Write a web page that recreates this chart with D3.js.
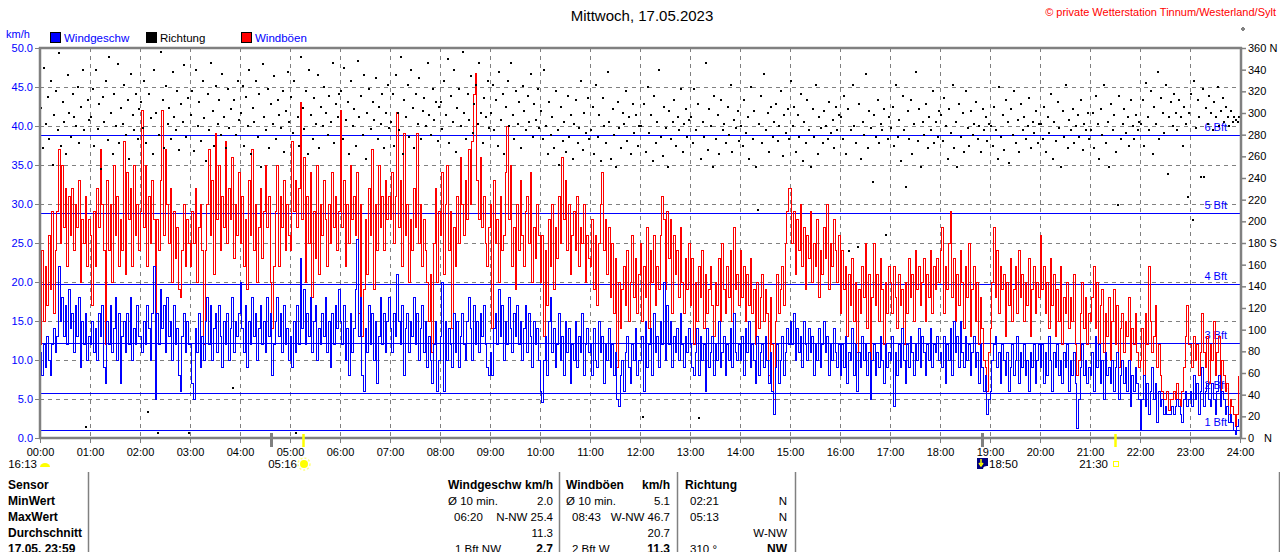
<!DOCTYPE html>
<html>
<head>
<meta charset="utf-8">
<script src="https://cdn.jsdelivr.net/npm/d3@7"></script>
<style>
  body { margin: 0; background: #fff; }
  svg { display: block; }
  text { font-family: "Liberation Sans", Arial, sans-serif; }
</style>
</head>
<body>
<div id="chart"></div>
<script>
// one sample every 2 minutes, one row per hour
const STEP = 2;

const windSpeed = [
  11,8,12,9,13,10,8,12,14,11,13,22,15,18,13,17,12,19,14,16,11,17,13,18,9,15,12,16,10,13,
  12,15,11,14,10,16,13,17,9,7,15,12,17,11,14,18,10,16,7,13,15,11,16,12,18,10,14,12,17,13,
  13,11,15,12,17,14,10,16,22,5,16,12,19,14,17,11,18,13,15,10,17,12,14,8,6,13,16,11,15,12,
  12,7,5,14,11,16,9,13,10,15,18,12,17,10,14,16,11,17,13,9,15,12,16,10,14,18,11,15,13,16,
  20,14,11,17,9,15,12,18,13,16,10,14,17,12,15,11,18,13,16,8,12,15,18,13,16,11,17,12,14,10,
  13,9,15,11,17,12,23,14,19,12,16,13,18,11,15,17,10,14,12,16,13,18,11,15,9,16,12,17,14,19,
  15,12,17,10,14,8,16,11,14,19,25.4,13,18,8,6,14,11,17,12,16,10,15,7,13,18,12,16,11,15,18,
  14,11,16,13,21,15,12,17,8,14,16,11,15,13,18,12,16,10,14,17,11,15,9,13,10,7,12,15,6,10,
  13,20,6,15,10,14,12,9,16,11,15,9,13,16,12,10,15,18,14,10,17,12,15,11,16,13,17,12,9,8,
  11,8,14,16,12,19,13,17,10,15,12,18,14,11,16,13,17,12,15,10,14,17,11,16,13,9,15,12,14,10,
  6,4.5,10,13,8,15,18,11,14,9,12,16,10,13,8,15,11,14,7,12,10,15,9,13,11,16,8,12,14,11,
  12,8,14,10,9,15,11,13,7,12,10,14,9,12,8,11,5,4,8,10,6,11,13,9,7,12,10,14,8,10,
  10,13,6,15,9,12,14,8,16,11,13,9,15,12,20,10,17,12,15,9,13,11,14,10,16,12,9,13,11,14,
  12,9,8,11,14,8,13,10,12,6,14,9,11,13,8,12,10,15,9,11,13,8,12,10,14,9,16,11,10,12,
  10,13,8,14,11,15,9,12,10,7,13,8,11,12,9,13,10,7,11,6,3,9,12,7,10,13,8,11,14,12,
  15,12,16,10,14,11,13,9,15,12,10,14,11,13,8,12,10,14,9,12,15,11,13,8,12,10,14,11,9,12,
  8,12,9,13,7,11,10,14,8,12,6,11,9,13,10,12,8,11,5,10,12,8,11,9,13,10,7,12,9,11,
  10,13,4,11,8,12,9,14,10,7,12,9,13,11,8,12,10,14,9,13,11,8,12,10,14,9,12,11,13,10,
  11,9,13,7,12,10,14,8,15,11,13,9,15,11,9,13,10,12,8,11,13,9,11,7,12,9,6,8,3,5,
  6,10,12,13,9,11,7,12,10,8,11,6,9,12,8,10,13,7,11,9,12,8,10,6,11,9,12,7,10,12,
  9,12,7,11,8,13,10,6,11,9,12,8,10,7,11,9,12,6,10,8,11,7,1.2,5,9,12,8,10,7,9,
  8,11,6,13,9,12,7,10,5,11,8,9,7,10,6,9,11,5,8,10,7,9,6,10,4,8,6,9,7,5,
  1,5,8,4,7,3,6,9,5,7,2,6,4,5,3,4,3,3,3,4,3,4,5,4,3,2,5,6,4,5,
  6,4,8,5,7,3,6,9,4,6,7,5,4,7,5,3,6,8,4,6,5,3,4,2,3,2,1,0.5,1.5,2.5
];

const windGust = [
  12,24,15,22,17,26,19,29,16,24,29,37,25,35,27,32,22,31,26,32,24,30,27,33,20,28,25,31,22,28,
  26,17,29,22,32,27,37,30,24,12,33,24,30,20,35,26,31,22,28,24,38,21,34,28,32,22,35,26,30,24,
  29,42,27,35,22,31,25,33,28,13,28,24,33,42,26,37,30,25,32,20,29,23,27,19,18,24,30,22,28,25,
  22,29,25,32,20,27,30,24,12,24,30,37,26,33,21,39,28,35,24,31,27,38,25,32,28,36,23,30,26,34,
  25,31,22,28,19,33,26,37,24,30,20,27,32,23,29,35,27,31,20,14,22,29,35,22,31,27,33,24,30,26,
  24,38,29,33,27,32,43,28,36,20,31,25,34,18,29,23,35,21,30,26,33,28,22,30,25,34,27,31,24,29,
  42,27,33,22,30,25,35,28,31,26,34,16,30,13,19,28,21,32,26,37,19,30,24,35,27,31,24,33,28,31,
  28,34,25,31,41.7,27,33,22,39,26,30,20,28,24,32,27,39,25,30,22,28,24,20,15,21,11,25,32,20,29,
  26,34,21,30,35,24,29,14,27,22,31,25,36,30,26,33,28,37,30,38,44,46.7,33,28,36,27,31,25,22,27,
  30,14,33,25,28,20,31,24,26,34,40,28,35,22,27,19,30,24,33,26,22,29,31,25,34,20,27,23,30,26,
  20,26,13,24,17,28,22,30,19,27,23,31,25,36,28,33,24,30,21,26,29,24,31,22,27,25,30,20,26,23,
  22,28,19,26,17,25,30,34,24,28,21,27,18,25,16,23,9,20,14,19,22,17,24,15,20,26,18,23,16,21,
  25,15,22,18,27,14,24,20,26,17,22,19,26,31,28,19,29,23,28,16,26,21,24,18,27,20,16,23,19,25,
  17,23,12,20,15,22,18,24,14,21,16,19,22,17,13,20,17,23,15,25,19,16,22,18,24,15,27,19,21,17,
  24,18,22,15,21,17,23,16,19,12,20,14,18,21,15,19,16,8,18,12,5,15,21,16,19,22,17,25,29,32,
  32,25,29,21,28,24,30,22,27,19,26,23,29,20,25,22,28,18,24,21,27,23,30,19,25,22,28,24,20,26,
  16,24,19,22,13,21,17,23,15,20,11,19,16,22,18,25,14,21,10,18,25,17,21,15,23,19,12,20,16,22,
  20,16,22,18,14,21,17,19,12,20,16,23,18,21,15,24,19,22,17,20,23,15,21,18,24,16,22,19,23,20,
  24,27,16,22,19,25,29,18,23,15,21,17,24,20,14,22,18,25,13,19,22,15,20,12,18,14,10,9,6,11,
  14,20,27,18,24,16,22,19,21,13,20,17,23,15,19,22,16,24,18,21,15,20,17,23,13,19,22,16,20,18,
  26,19,22,16,20,14,23,17,21,13,19,15,22,12,18,16,20,14,18,15,21,12,8,10,16,20,14,18,12,16,
  15,18,22,14,20,12,17,19,11,16,13,18,10,15,19,12,17,9,14,16,11,15,13,18,10,14,12,16,11,9,
  10,14,8,16,12,22,15,11,13,17,9,12,8,6,5,5,6,3.5,5,5,6,5,7,5,4,6,9,13,17,12,
  12,9,13,10,12,8,11,16,11,9,13,7,12,10,15,8,11,13,6,10,8,6,7,3,5,4,3,1.5,3,8
];

const windDir = [
  305,268,342,290,315,276,330,252,298,320,284,355,270,310,292,262,335,300,278,318,296,288,324,272,306,340,284,10,312,294,
  296,322,270,340,285,308,248,315,292,330,275,352,300,262,318,288,345,272,305,290,326,280,312,258,336,298,284,318,276,304,
  310,286,330,272,24,318,295,262,340,300,5,280,356,312,268,325,290,305,276,338,296,284,320,266,308,292,344,278,314,5,
  298,320,265,340,288,310,274,330,295,256,318,284,346,302,270,325,290,312,280,336,296,268,322,286,304,46,312,280,330,294,
  300,325,270,315,288,340,262,305,292,330,278,318,250,345,296,284,322,268,308,290,334,276,312,298,286,320,264,302,338,292,
  315,282,330,5,296,270,352,305,285,320,262,340,298,276,314,290,335,268,306,288,324,300,280,316,292,346,272,308,296,318,
  320,276,342,294,310,262,330,288,304,270,348,296,316,280,335,258,300,322,285,310,294,332,276,306,290,318,268,300,326,286,
  292,318,270,335,300,284,352,262,312,296,326,278,340,305,268,318,290,332,276,302,314,288,346,298,280,322,294,310,274,306,
  310,285,330,298,350,272,316,292,340,264,305,322,288,356,300,276,318,294,334,282,308,326,290,346,300,272,314,296,330,286,
  300,326,284,312,270,338,294,318,262,306,330,288,346,298,276,320,290,310,268,325,302,284,316,292,336,278,308,294,322,286,
  302,276,340,288,262,310,280,296,268,320,284,252,306,274,292,264,316,278,298,258,290,312,272,286,330,266,300,282,314,276,
  284,306,262,326,278,298,256,314,288,272,338,292,258,304,280,250,310,286,268,300,290,320,274,296,262,308,282,298,270,288,
  288,19,308,264,324,282,298,256,316,272,292,340,278,260,306,286,250,302,276,292,312,270,296,284,322,264,290,304,278,294,
  296,272,322,284,308,18,258,292,278,346,266,304,288,250,316,276,298,262,312,284,290,272,306,280,326,264,294,286,302,274,
  288,270,312,282,296,258,324,276,302,250,210,290,316,272,336,284,300,264,306,278,292,308,274,288,320,260,298,282,304,276,
  330,288,306,264,298,278,318,256,292,272,312,284,250,304,278,326,262,296,286,272,302,288,276,310,282,294,268,306,284,298,
  296,276,316,262,304,173,284,326,288,272,176,308,258,292,280,336,268,302,286,236,298,278,312,272,290,284,304,187,276,296,
  286,306,270,326,278,294,256,316,284,232,302,276,312,262,290,338,274,304,250,292,280,308,268,296,284,320,272,292,278,302,
  298,274,314,288,258,304,282,326,268,292,250,308,278,300,264,320,286,270,302,280,290,310,276,288,264,304,284,296,274,290,
  288,270,306,284,258,324,278,298,266,312,292,254,304,280,320,272,294,264,308,284,296,276,288,314,268,292,282,302,272,290,
  290,276,306,264,296,282,318,258,292,274,310,286,250,302,278,326,268,294,284,304,272,288,298,278,312,266,290,284,300,276,
  284,300,268,316,290,258,304,280,326,272,292,250,308,284,298,264,215,316,276,290,304,282,296,270,312,288,276,298,284,292,
  290,312,270,328,296,284,320,262,306,290,338,276,314,300,282,326,244,296,310,288,318,300,284,312,296,270,306,290,222,300,
  318,201,330,286,312,296,241,322,241,305,290,316,300,284,310,296,324,288,302,314,292,306,296,288,302,292,296,294,292,296
];

const hourLabels = ["00:00","01:00","02:00","03:00","04:00","05:00","06:00","07:00","08:00",
  "09:00","10:00","11:00","12:00","13:00","14:00","15:00","16:00","17:00","18:00","19:00",
  "20:00","21:00","22:00","23:00","24:00"];
const speedTicks = [0,5,10,15,20,25,30,35,40,45,50];
const dirTicks = [0,20,40,60,80,100,120,140,160,180,200,220,240,260,280,300,320,340,360];
const dirNames = { 180: "S", 360: "N" };
const bftLevels = [1.08, 5.76, 12.24, 19.8, 28.8, 38.88];
const bftLabels = ["1 Bft","2 Bft","3 Bft","4 Bft","5 Bft","6 Bft"];

// sun / moon events (minutes of day)
const greyMarks = [277, 1130];
const yellowMarks = [316, 1290];

const rowLabels = ["Sensor","MinWert","MaxWert","Durchschnitt","17.05. 23:59"];
const colWind = { x: [448,448,454,454,455], right: 553, left: ["Windgeschw","Ø 10 min.","06:20","","1 Bft NW"],
  value: ["km/h","2.0","N-NW 25.4","11.3","2.7"] };
const colGust = { x: [566,566,572,572,572], right: 670, left: ["Windböen","Ø 10 min.","08:43","","2 Bft W"],
  value: ["km/h","5.1","W-NW 46.7","20.7","11.3"] };
const colDir = { x: [685,690,690,690,690], right: 787, left: ["Richtung","02:21","05:13","","310 °"],
  value: ["","N","N","W-NW","NW"] };

const BLUE = "#0000ff", RED = "#ff0000", GREY = "#808080";
const FONT = '"Liberation Sans", Arial, sans-serif';

const svg = d3.select("#chart").append("svg")
    .attr("width", 1280)
    .attr("height", 552);

let x = d3.scaleLinear().domain([0, 1440]).range([40, 1240]);
let y = d3.scaleLinear().domain([0, 50]).range([438, 48]);
let yDir = d3.scaleLinear().domain([0, 360]).range([438, 48]);

// grid
svg.append("g").selectAll("line")
    .data(speedTicks.filter(d => d > 0 && d < 50))
    .join("line")
    .attr("x1", 40).attr("x2", 1240)
    .attr("y1", d => Math.round(y(d)) + 0.5).attr("y2", d => Math.round(y(d)) + 0.5)
    .attr("stroke", GREY).attr("stroke-dasharray", "4,4");

svg.append("g").selectAll("line")
    .data(d3.range(1, 24))
    .join("line")
    .attr("x1", d => Math.round(x(d * 60)) + 0.5).attr("x2", d => Math.round(x(d * 60)) + 0.5)
    .attr("y1", 48).attr("y2", 438)
    .attr("stroke", GREY).attr("stroke-dasharray", "4,4");

// beaufort lines
svg.append("g").selectAll("line")
    .data(bftLevels)
    .join("line")
    .attr("x1", 40).attr("x2", 1240)
    .attr("y1", d => Math.round(y(d)) + 0.5).attr("y2", d => Math.round(y(d)) + 0.5)
    .attr("stroke", BLUE);

svg.append("g").selectAll("text")
    .data(bftLevels)
    .join("text")
    .attr("x", 1227).attr("y", d => Math.round(y(d)) - 4)
    .attr("text-anchor", "end")
    .attr("fill", BLUE)
    .style("font-size", "11px")
    .text((d, i) => bftLabels[i]);

// series
let line = d3.line()
    .x((d, i) => x(i * STEP))
    .y(d => y(d))
    .curve(d3.curveStepAfter);

svg.append("path").datum(windGust)
    .attr("d", line).attr("fill", "none").attr("stroke", RED)
    .attr("stroke-width", 1).attr("shape-rendering", "crispEdges");

svg.append("path").datum(windSpeed)
    .attr("d", line).attr("fill", "none").attr("stroke", BLUE)
    .attr("stroke-width", 1).attr("shape-rendering", "crispEdges");

svg.append("g").selectAll("rect")
    .data(windDir)
    .join("rect")
    .attr("x", (d, i) => Math.round(x(i * STEP + 1)) - 1)
    .attr("y", d => Math.round(yDir(d)) - 1)
    .attr("width", 2).attr("height", 2)
    .attr("fill", "#000");

// frame
svg.append("path")
    .attr("d", "M40,47V439M39,48H1242M1241,47V439M39,438H1242")
    .attr("stroke", GREY).attr("stroke-width", 2.5).attr("fill", "none");

// left axis
let leftAxis = svg.append("g").attr("transform", "translate(39,0)")
    .call(d3.axisLeft(y).tickValues(speedTicks).tickFormat(d3.format(".1f")).tickSize(4).tickPadding(2));
leftAxis.select(".domain").remove();
leftAxis.selectAll("line").attr("stroke", GREY);
leftAxis.selectAll("text").attr("fill", BLUE).style("font-size", "11px").style("font-family", FONT);

// right axis
let rightAxis = svg.append("g").attr("transform", "translate(1242,0)")
    .call(d3.axisRight(yDir).tickValues(dirTicks)
        .tickFormat(d => dirNames[d] ? d + " " + dirNames[d] : d).tickSize(4).tickPadding(2));
rightAxis.select(".domain").remove();
rightAxis.selectAll("line").attr("stroke", GREY).attr("stroke-width", 1.5);
rightAxis.selectAll("text").attr("fill", "#000").style("font-size", "11px").style("font-family", FONT);

svg.append("text").attr("x", 1264).attr("y", yDir(0) + 4)
    .style("font-size", "11px").text("N");

// bottom axis
let bottomAxis = svg.append("g").attr("transform", "translate(0,439)")
    .call(d3.axisBottom(x).tickValues(d3.range(0, 25).map(h => h * 60))
        .tickFormat((d, i) => hourLabels[i]).tickSize(4).tickPadding(5));
bottomAxis.select(".domain").remove();
bottomAxis.selectAll("line").attr("stroke", GREY);
bottomAxis.selectAll("text").attr("fill", "#000").style("font-size", "11px").style("font-family", FONT);

svg.append("g").selectAll("line")
    .data(greyMarks)
    .join("line")
    .attr("x1", d => Math.round(x(d)) + 0.5).attr("x2", d => Math.round(x(d)) + 0.5)
    .attr("y1", 433).attr("y2", 447)
    .attr("stroke", GREY).attr("stroke-width", 3);

svg.append("g").selectAll("line")
    .data(yellowMarks)
    .join("line")
    .attr("x1", d => Math.round(x(d)) + 0.5).attr("x2", d => Math.round(x(d)) + 0.5)
    .attr("y1", 434).attr("y2", 447)
    .attr("stroke", "#ffff00").attr("stroke-width", 2.5);

// sun / moon labels
const ev = svg.append("g").style("font-size", "11.5px");
ev.append("text").attr("x", 37).attr("y", 468).attr("text-anchor", "end").text("16:13");
ev.append("path").attr("d", "M40,467A5,4 0 0 1 50,467Z").attr("fill", "#ffff00");
ev.append("text").attr("x", 297).attr("y", 468).attr("text-anchor", "end").text("05:16");
ev.append("circle").attr("cx", 304).attr("cy", 464).attr("r", 4).attr("fill", "#ffff00");
ev.append("circle").attr("cx", 304).attr("cy", 464).attr("r", 6)
    .attr("fill", "none").attr("stroke", "#ffff80").attr("stroke-width", 1.5).attr("stroke-dasharray", "2,2");
ev.append("rect").attr("x", 977).attr("y", 458).attr("width", 11).attr("height", 11).attr("fill", "#000080");
ev.append("path").attr("d", "M981,459V464M979,463L981,466L983,463").attr("stroke", "#ffff00").attr("stroke-width", 1.5).attr("fill", "none");
ev.append("path").attr("d", "M983,469A4,3 0 0 1 988,466V469Z").attr("fill", "#ffffff");
ev.append("text").attr("x", 989).attr("y", 468).text("18:50");
ev.append("text").attr("x", 1108).attr("y", 468).attr("text-anchor", "end").text("21:30");
ev.append("rect").attr("x", 1113.5).attr("y", 461.5).attr("width", 5).attr("height", 5)
    .attr("fill", "none").attr("stroke", "#ffff00");

// titles and legend
svg.append("text").attr("x", 642).attr("y", 21).attr("text-anchor", "middle")
    .style("font-size", "15px").text("Mittwoch, 17.05.2023");

svg.append("text").attr("x", 1276).attr("y", 16).attr("text-anchor", "end")
    .attr("fill", RED).style("font-size", "11px")
    .text("© private Wetterstation Tinnum/Westerland/Sylt");
svg.append("circle").attr("cx", 1243).attr("cy", 29).attr("r", 1.3)
    .attr("fill", "none").attr("stroke", "#000").attr("stroke-width", 0.8);

svg.append("text").attr("x", 6).attr("y", 38).attr("fill", BLUE)
    .style("font-size", "11px").text("km/h");

const legend = [
  { x: 50, fill: BLUE, label: "Windgeschw", color: BLUE },
  { x: 146, fill: "#000", label: "Richtung", color: "#000" },
  { x: 241, fill: RED, label: "Windböen", color: BLUE }
];
let lg = svg.append("g").selectAll("g").data(legend).join("g");
lg.append("rect").attr("x", d => d.x + 0.5).attr("y", 32.5).attr("width", 10).attr("height", 10)
    .attr("fill", d => d.fill).attr("stroke", "#000");
lg.append("text").attr("x", d => d.x + 14).attr("y", 42).attr("fill", d => d.color)
    .style("font-size", "11.5px").text(d => d.label);

// table
const rowY = [489, 505, 521, 537, 553];
svg.append("g").selectAll("text").data(rowLabels).join("text")
    .attr("x", 8).attr("y", (d, i) => rowY[i])
    .style("font-size", "12px").style("font-weight", "bold").text(d => d);

svg.append("g").selectAll("line").data([88, 559, 677, 795, 1279]).join("line")
    .attr("x1", d => d + 0.5).attr("x2", d => d + 0.5)
    .attr("y1", 472).attr("y2", 552)
    .attr("stroke", GREY).attr("stroke-width", 1.5);

[colWind, colGust, colDir].forEach(function(col) {
    let g = svg.append("g");
    g.selectAll("text.l").data(col.left).join("text").attr("class", "l")
        .attr("x", (d, i) => col.x[i])
        .attr("y", (d, i) => rowY[i])
        .style("font-size", (d, i) => i === 0 ? "12px" : "11.5px")
        .style("font-weight", (d, i) => i === 0 ? "bold" : "normal")
        .text(d => d);
    g.selectAll("text.r").data(col.value).join("text").attr("class", "r")
        .attr("x", col.right).attr("y", (d, i) => rowY[i])
        .attr("text-anchor", "end")
        .style("font-size", (d, i) => (i === 0 || i === 4) ? "12px" : "11.5px")
        .style("font-weight", (d, i) => (i === 0 || i === 4) ? "bold" : "normal")
        .text(d => d);
});
</script>
</body>
</html>
